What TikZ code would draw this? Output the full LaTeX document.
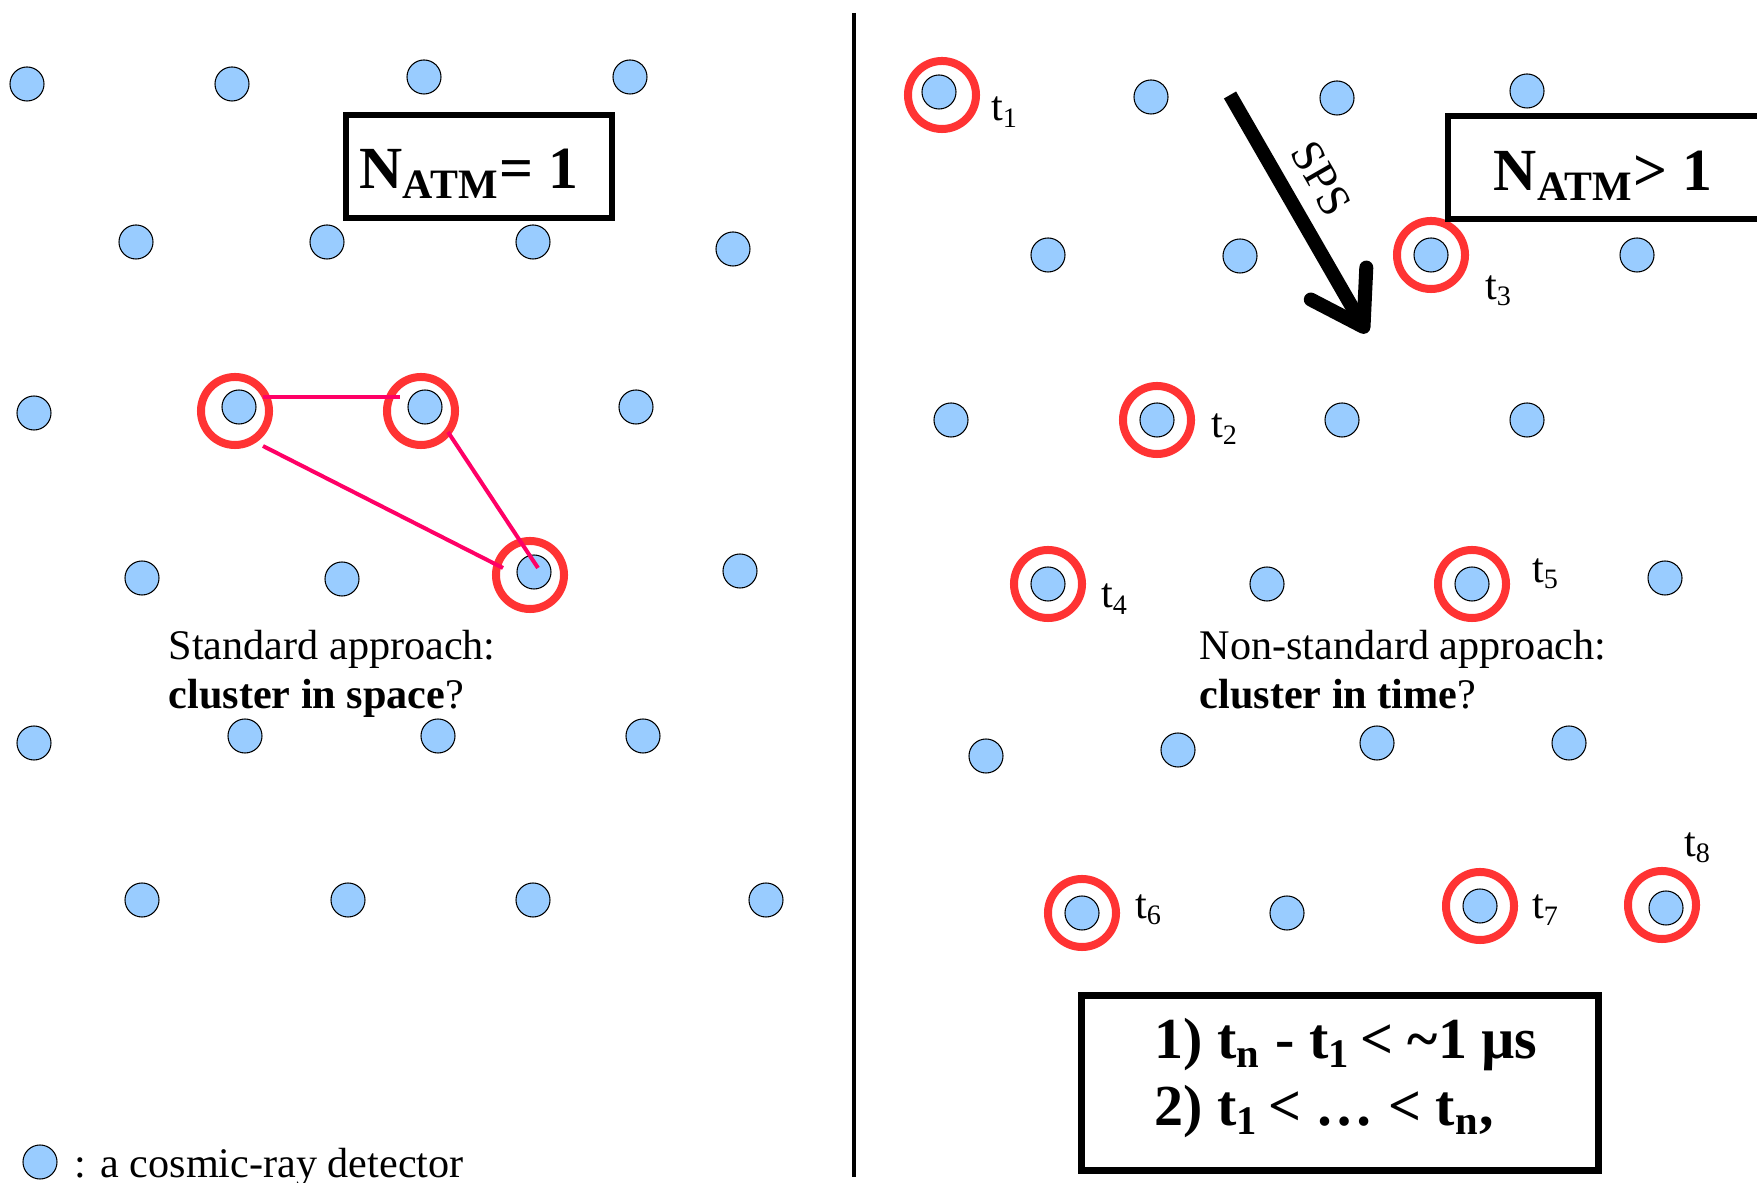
\documentclass[tikz,border=0pt]{standalone}
\usepackage{fontspec}
\setmainfont{Liberation Serif}
\usetikzlibrary{positioning,arrows.meta}
\definecolor{detblue}{RGB}{153,204,255}
\definecolor{ringred}{RGB}{255,51,51}
\definecolor{linkpink}{RGB}{255,0,102}

\begin{document}
\begin{tikzpicture}[
    x=0.01cm,
    y=-0.01cm,
    det/.style={
        circle,
        draw,
        line width=0.3pt,
        fill=detblue,
        minimum size=0.34cm,
        inner sep=0pt
    },
    ring/.style={
        circle,
        draw=ringred,
        line width=0.08cm,
        minimum size=0.68cm,
        inner sep=0pt
    },
    frame/.style={
        rectangle,
        draw,
        line width=0.06cm,
        align=center,
        font=\fontsize{17}{19}\selectfont\bfseries
    },
    note/.style={
        align=left,
        anchor=west,
        inner sep=0pt,
        font=\fontsize{12}{14}\selectfont
    },
    tlab/.style={
        inner sep=0pt,
        font=\fontsize{12}{14}\selectfont
    },
    link/.style={
        draw=linkpink,
        line width=0.04cm
    },
    arrow/.style={
        -{Straight Barb[length=0.5cm, width=0.64cm, round]},
        line width=0.14cm
    }
]

\useasboundingbox (0,0) rectangle (1757,1183);

\node[det] (l11) at (27,84) {};
\node[det] (l12) at (232,84) {};
\node[det] (l13) at (424,77) {};
\node[det] (l14) at (630,77) {};
\node[det] (l21) at (136,242) {};
\node[det] (l22) at (327,242) {};
\node[det] (l23) at (533,242) {};
\node[det] (l24) at (733,249) {};
\node[det] (l31) at (34,413) {};
\node[det] (l32) at (239,407) {};
\node[det] (l33) at (425,407) {};
\node[det] (l34) at (636,407) {};
\node[det] (l41) at (142,578) {};
\node[det] (l42) at (342,579) {};
\node[det] (l43) at (534,572) {};
\node[det] (l44) at (740,571) {};
\node[det] (l51) at (34,743) {};
\node[det] (l52) at (245,736) {};
\node[det] (l53) at (438,736) {};
\node[det] (l54) at (643,736) {};
\node[det] (l61) at (142,900) {};
\node[det] (l62) at (348,900) {};
\node[det] (l63) at (533,900) {};
\node[det] (l64) at (766,900) {};

\node[det] (r11) at (939,92) {};
\node[det] (r12) at (1151,97) {};
\node[det] (r13) at (1337,98) {};
\node[det] (r14) at (1527,91) {};
\node[det] (r21) at (1048,255) {};
\node[det] (r22) at (1240,256) {};
\node[det] (r23) at (1431,255) {};
\node[det] (r24) at (1637,255) {};
\node[det] (r31) at (951,420) {};
\node[det] (r32) at (1157,420) {};
\node[det] (r33) at (1342,420) {};
\node[det] (r34) at (1527,420) {};
\node[det] (r41) at (1048,584) {};
\node[det] (r42) at (1267,584) {};
\node[det] (r43) at (1472,584) {};
\node[det] (r44) at (1665,578) {};
\node[det] (r51) at (986,756) {};
\node[det] (r52) at (1178,750) {};
\node[det] (r53) at (1377,743) {};
\node[det] (r54) at (1569,743) {};
\node[det] (r61) at (1082,913) {};
\node[det] (r62) at (1287,913) {};
\node[det] (r63) at (1480,906) {};
\node[det] (r64) at (1666,908) {};

\node[ring] (sring1) at (235,411) {};
\node[ring] (sring2) at (421,411) {};
\node[ring] (sring3) at (530,575) {};

\draw[link] ([shift={(28,-14)}]sring1.center) -- ([shift={(-21,-14)}]sring2.center);
\draw[link] ([shift={(28,35)}]sring1.center) -- ([shift={(-27,-7)}]sring3.center);
\draw[link] ([shift={(27,21)}]sring2.center) -- ([shift={(8,-7)}]sring3.center);

\node[ring] (tring1) at (942,95) {};
\node[ring] (tring2) at (r32) {};
\node[ring] (tring3) at (r23) {};
\node[ring] (tring4) at (r41) {};
\node[ring] (tring5) at (r43) {};
\node[ring] (tring6) at (r61) {};
\node[ring] (tring7) at (r63) {};
\node[ring] (tring8) at (1662,905) {};

\node[tlab] (tl1) at (1005,112) {t\textsubscript{1}};
\node[tlab] (tl2) at (1225,429) {t\textsubscript{2}};
\node[tlab] (tl3) at (1499,291) {t\textsubscript{3}};
\node[tlab] (tl4) at (1115,599) {t\textsubscript{4}};
\node[tlab] (tl5) at (1546,574) {t\textsubscript{5}};
\node[tlab] (tl6) at (1149,910) {t\textsubscript{6}};
\node[tlab] (tl7) at (1546,910) {t\textsubscript{7}};
\node[tlab] (tl8) at (1698,848) {t\textsubscript{8}};

\node[frame, text height=0.54cm, minimum width=2.66cm, minimum height=1.03cm] (natmone) at (479,166.5)
{N\textsubscript{ATM}= 1\hspace*{0.2cm}};

\node[frame, text height=0.56cm, anchor=west, minimum width=3.6cm, minimum height=1.03cm] (natmmany) at (1445,167.5)
{N\textsubscript{ATM}> 1\hspace*{0.5cm}};

\node[frame, line width=0.07cm, align=left, text depth=0.22cm, minimum width=5.17cm, minimum height=1.75cm,
    font=\fontsize{16.5}{19}\selectfont\bfseries] (rules) at (1340,1083)
{\hspace*{0.12cm}1) t\textsubscript{n} - t\textsubscript{1}\,< \textasciitilde1 µs\\
\hspace*{0.12cm}2) t\textsubscript{1}\,< … < t\textsubscript{n},};

\node[note] (stdtext) at (168,674)
{Standard approach:\\
\textbf{cluster in space}?};

\node[note] (nstdtext) at (1199,670)
{Non-standard approach:\\
\textbf{cluster in time}?};

\coordinate (divtop) at (854,13);
\coordinate (divbot) at (854,1177);
\draw[line width=0.04cm] (divtop) -- (divbot);

\coordinate (spsfrom) at (1230,95);
\coordinate (spsto) at (1367,333);
\draw[arrow] (spsfrom) -- node[pos=0.43, above=1pt, sloped, font=\fontsize{13}{13}\selectfont] (spslabel)
{SPS} (spsto);

\node[det] (legdet) at (40,1162) {};
\node[note] (legtext) at (74,1167) {: a cosmic-ray detector};

\end{tikzpicture}
\end{document}
